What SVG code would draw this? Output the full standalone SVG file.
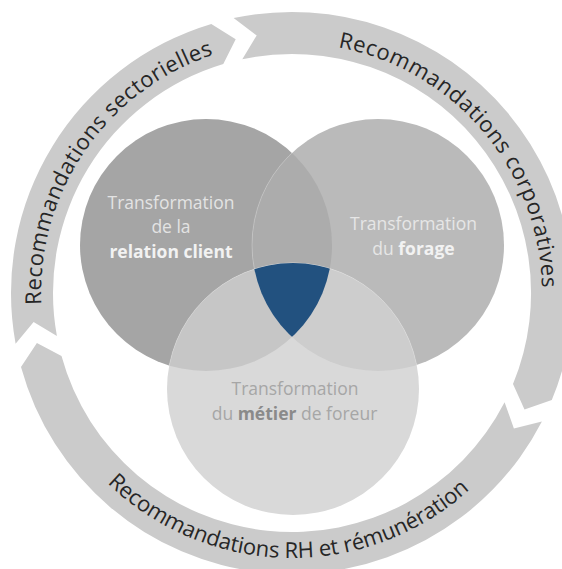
<svg xmlns="http://www.w3.org/2000/svg" width="562" height="569" viewBox="0 0 562 569">
<style>
.arrow{fill:#cbcbcb}
.arc{font-family:"Open Sans","Liberation Sans",sans-serif;font-size:22px;fill:#262626}
.vt{font-family:"Open Sans","Liberation Sans",sans-serif;font-size:17.5px;text-anchor:middle}
.b{font-weight:700}
.edge{stroke:#ffffff;stroke-opacity:0.25;stroke-width:1}
</style>
<defs>
<clipPath id="cL"><circle cx="206" cy="245" r="126"/></clipPath>
<clipPath id="cR"><circle cx="378" cy="245" r="126"/></clipPath>
<path id="pS" d="M41.3,304.8 A251,251 0 0 1 213.6,54.6"/>
<path id="pC" d="M338,47.3 A250,250 0 0 1 542,287.8"/>
<path id="pH" d="M107.3,483 A265,265 0 0 0 470,489.3"/>
</defs>
<rect width="562" height="569" fill="#ffffff"/>
<g id="connectors">
<g id="arrow-sectorielles">
<path class="arrow" d="M15.6,343.7 A281,281 0 0 1 211.3,23.9 L235.7,39.2 L223.3,64.1 A239,239 0 0 0 56.9,336.1 L33.6,322 Z"/>
<text class="arc"><textPath href="#pS" textLength="326" lengthAdjust="spacing">Recommandations sectorielles</textPath></text>
</g>
<g id="arrow-corporatives">
<path class="arrow" d="M233.6,18.1 A281,281 0 0 1 551.8,400.1 L524.5,409.4 L513,384.1 A239,239 0 0 0 242.3,59.2 L256.7,35.4 Z"/>
<text class="arc"><textPath href="#pC" textLength="341" lengthAdjust="spacing">Recommandations corporatives</textPath></text>
</g>
<g id="arrow-rh">
<path class="arrow" d="M541.9,421.5 A281,281 0 0 1 21,367.1 L36.9,343.1 L61.5,356.1 A239,239 0 0 0 504.6,402.2 L513.9,428.5 Z"/>
<text class="arc"><textPath href="#pH" textLength="399" lengthAdjust="spacing">Recommandations RH et rémunération</textPath></text>
</g>
</g>
<g id="venn">
<g id="circle-relation-client">
<circle cx="206" cy="245" r="126" fill="#a5a5a5"/>
</g>
<g id="circle-forage">
<circle cx="378" cy="245" r="126" fill="#bababa"/>
<circle cx="378" cy="245" r="126" fill="#acacac" class="edge" clip-path="url(#cL)"/>
</g>
<g id="circle-metier">
<circle cx="293" cy="389" r="126" fill="#d9d9d9"/>
<circle cx="293" cy="389" r="126" fill="#c6c6c6" class="edge" clip-path="url(#cL)"/>
<circle cx="293" cy="389" r="126" fill="#cdcdcd" class="edge" clip-path="url(#cR)"/>
</g>
<g id="center">
<g clip-path="url(#cL)"><circle cx="293" cy="389" r="126" fill="#22517f" clip-path="url(#cR)"/></g>
</g>
<g id="labels">
<text class="vt" x="171" y="209" fill="#e3e3e3">Transformation</text>
<text class="vt" x="171" y="233" fill="#e3e3e3">de la</text>
<text class="vt b" x="171" y="258" fill="#f2f2f2">relation client</text>
<text class="vt" x="413.5" y="230" fill="#e6e6e6">Transformation</text>
<text class="vt" x="413.5" y="255" fill="#e6e6e6">du <tspan class="b" fill="#f2f2f2">forage</tspan></text>
<text class="vt" x="295" y="395" fill="#a6a6a6">Transformation</text>
<text class="vt" x="294.5" y="420" fill="#a6a6a6">du <tspan class="b" fill="#8a8a8a">métier</tspan> de foreur</text>
</g>
</g>
</svg>
